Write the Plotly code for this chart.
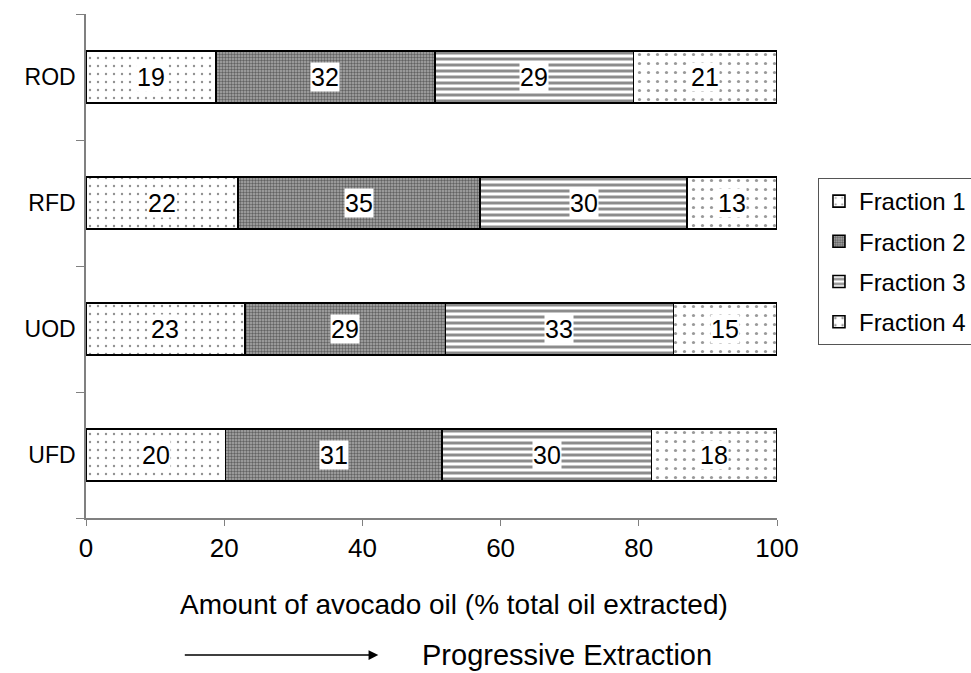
import plotly.graph_objects as go

# Oil extracted in each fraction (% of total), per drying/extraction treatment
treatments = ["UFD", "UOD", "RFD", "ROD"]
fraction_names = ["Fraction 1", "Fraction 2", "Fraction 3", "Fraction 4"]
fraction_1 = [20, 23, 22, 19]
fraction_2 = [31, 29, 35, 32]
fraction_3 = [30, 33, 30, 29]
fraction_4 = [18, 15, 13, 21]
x_ticks = [0, 20, 40, 60, 80, 100]

series = [fraction_1, fraction_2, fraction_3, fraction_4]

FONT = "Liberation Sans, Arial, sans-serif"

patterns = [
    dict(shape=".", size=8, solidity=0.07, fgcolor="#222222", bgcolor="white"),
    dict(shape=".", size=3, solidity=0.5, fgcolor="#1a1a1a", bgcolor="#aaaaaa"),
    dict(shape="-", size=6, solidity=0.5, fgcolor="#1a1a1a", bgcolor="white"),
    dict(shape=".", size=9, solidity=0.1, fgcolor="#333333", bgcolor="white"),
]

fig = go.Figure()
for i, (name, vals) in enumerate(zip(fraction_names, series)):
    fig.add_trace(go.Bar(
        y=treatments, x=vals, name=name, orientation="h",
        legendgroup=name,
        marker=dict(color="white", pattern=patterns[i],
                    line=dict(color="black", width=1.6)),
        hoverinfo="x+y+name",
    ))

# value labels, centred on each (normalised) segment
for j, cat in enumerate(treatments):
    row = [s[j] for s in series]
    total = sum(row)
    left = 0.0
    for v in row:
        w = v / total * 100
        fig.add_annotation(x=left + w / 2, y=cat, xref="x", yref="y",
                           text=str(v), showarrow=False,
                           bgcolor="white", borderpad=0,
                           font=dict(family=FONT, size=25, color="black"))
        left += w

# axis title under the tick labels
fig.add_annotation(xref="paper", yref="paper", x=0.533, y=-0.1726,
                   xanchor="center", yanchor="middle", showarrow=False,
                   text="Amount of avocado oil (% total oil extracted)",
                   font=dict(family=FONT, size=28, color="black"))

# extraction direction arrow below the axis title
fig.add_annotation(xref="paper", yref="paper", x=0.423, y=-0.272,
                   ax=-195, ay=0, axref="pixel", ayref="pixel",
                   text="", showarrow=True, arrowhead=2, arrowsize=1.3,
                   arrowwidth=1.5, arrowcolor="black")
fig.add_annotation(xref="paper", yref="paper", x=0.483, y=-0.272,
                   xanchor="left", yanchor="middle", showarrow=False,
                   text="Progressive Extraction",
                   font=dict(family=FONT, size=29, color="black"))

fig.update_layout(
    width=971, height=673,
    margin=dict(l=86, r=194, t=14, b=155),
    barmode="stack", barnorm="percent", bargap=0.587,
    plot_bgcolor="white", paper_bgcolor="white",
    font=dict(family=FONT, size=24, color="black"),
    showlegend=True,
    legend=dict(xref="container", yref="container",
                x=0.8424, y=0.7355, xanchor="left", yanchor="top",
                traceorder="grouped", tracegroupgap=6,
                bordercolor="#555555", borderwidth=1,
                font=dict(family=FONT, size=24, color="black"),
                itemwidth=30),
    xaxis=dict(range=[0, 100], tickvals=x_ticks, showgrid=False,
               zeroline=False, showline=True, linecolor="#808080",
               linewidth=1.5, ticks="outside", ticklen=6, tickcolor="#808080",
               tickfont=dict(family=FONT, size=26)),
    yaxis=dict(categoryorder="array", categoryarray=treatments,
               showgrid=False, zeroline=False, showline=True,
               linecolor="#808080", linewidth=1.5,
               ticks="outside", ticklen=8, tickcolor="#808080",
               tickfont=dict(family=FONT, size=23),
               tickson="boundaries", ticklabelstandoff=4),
)

fig.write_html("out.html")
